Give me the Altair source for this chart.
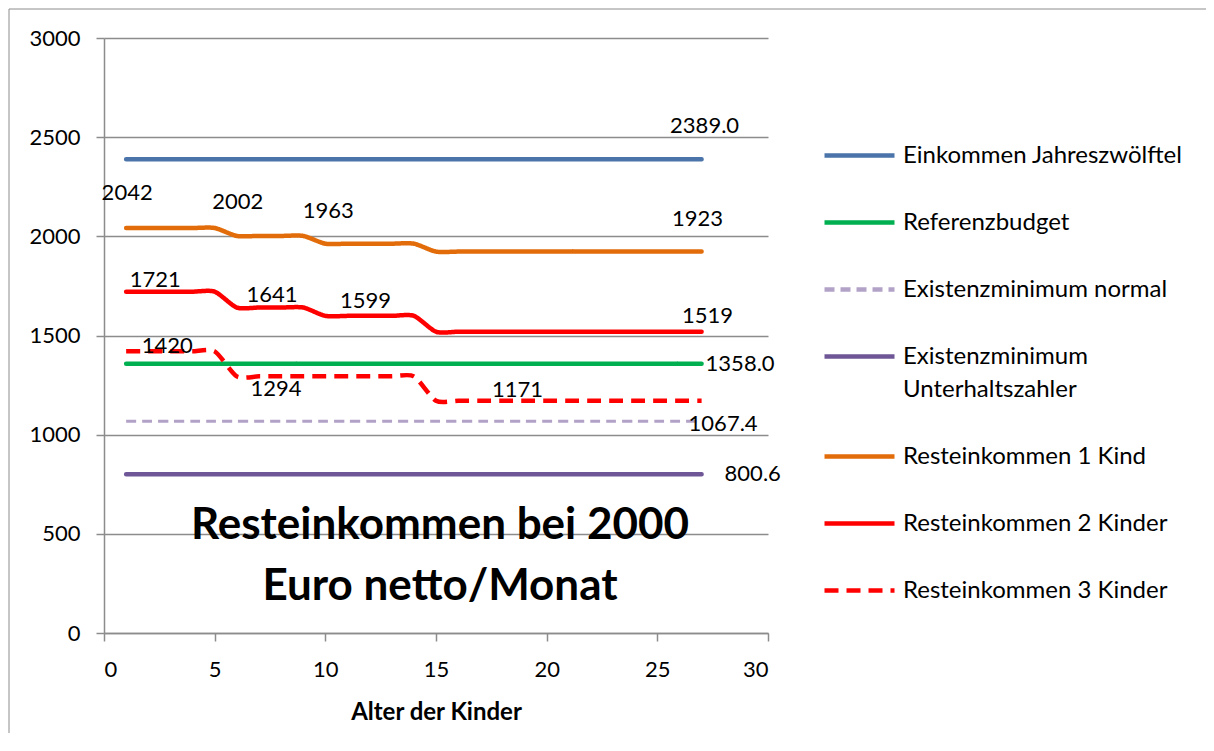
import altair as alt
import pandas as pd

# ---------------- data ----------------
ages = list(range(1, 28))

series_names = [
    "Einkommen Jahreszwölftel",
    "Referenzbudget",
    "Existenzminimum normal",
    "Existenzminimum Unterhaltszahler",
    "Resteinkommen 1 Kind",
    "Resteinkommen 2 Kinder",
    "Resteinkommen 3 Kinder",
]

einkommen = [2389.0] * 27
referenzbudget = [1358.0] * 27
existenz_normal = [1067.4] * 27
existenz_unterhalt = [800.6] * 27
rest_1_kind = [2042] * 5 + [2002] * 4 + [1963] * 5 + [1923] * 13
rest_2_kinder = [1721] * 5 + [1641] * 4 + [1599] * 5 + [1519] * 13
rest_3_kinder = [1420] * 5 + [1294] * 9 + [1171] * 13

series_values = [einkommen, referenzbudget, existenz_normal, existenz_unterhalt,
                 rest_1_kind, rest_2_kinder, rest_3_kinder]

colors = ["#4A74AA", "#00B050", "#B3A2C7", "#6F5797", "#E36C0A", "#FF0000", "#FF0000"]
dashes = [[1, 0], [1, 0], [10, 6], [1, 0], [1, 0], [1, 0], [14, 8]]

x_ticks = [0, 5, 10, 15, 20, 25, 30]
y_ticks = [0, 500, 1000, 1500, 2000, 2500, 3000]

# data labels: (series index, age, number format)
label_points = [
    (0, 27, ".1f"),
    (4, 1, "d"), (4, 6, "d"), (4, 10, "d"), (4, 27, "d"),
    (5, 2, "d"), (5, 7, "d"), (5, 11, "d"), (5, 27, "d"),
    (6, 2, "d"), (6, 7, "d"), (6, 18, "d"),
    (1, 27, ".1f"), (2, 27, ".1f"), (3, 27, ".1f"),
]
# placement styles for the labels (dx, dy, align), same order
label_styles = [
    (3, -33, "center"),
    (1, -35, "center"), (1, -34, "center"), (3, -33, "center"), (-4, -33, "center"),
    (7, -12, "center"), (13, -13, "center"), (18, -15, "center"), (6, -16, "center"),
    (19, -5, "center"), (17, 13, "center"), (15, -11, "center"),
    (4, 0, "left"), (-13, 3, "left"), (23, 0, "left"),
]

# ---------------- build table ----------------
rows = []
for name, vals in zip(series_names, series_values):
    for a, v in zip(ages, vals):
        rows.append({"series": name, "age": a, "value": float(v)})
df = pd.DataFrame(rows)

FONT = "Lato"
GRID = "#8C8C8C"

legend = alt.Legend(
    orient="none", legendX=718, legendY=80, title=None,
    symbolType="stroke", symbolSize=4900, symbolStrokeWidth=4.5,
    labelFont=FONT, labelFontSize=24, labelColor="black", labelOffset=6,
    labelLimit=400, rowPadding=17, padding=0,
    labelExpr="datum.label == 'Existenzminimum Unterhaltszahler' ? ['Existenzminimum', 'Unterhaltszahler'] : datum.label",
)

x_enc = alt.X("age:Q", scale=alt.Scale(domain=[0, 30], nice=False),
              axis=alt.Axis(values=x_ticks, title="Alter der Kinder", grid=False,
                            tickSize=8, labelPadding=18, titlePadding=20, format="d",
                            titleFontWeight="bold", titleFontSize=24, titleFont=FONT))
y_enc = alt.Y("value:Q", scale=alt.Scale(domain=[0, 3000], nice=False),
              axis=alt.Axis(values=y_ticks, title=None, grid=True, tickSize=8,
                            labelPadding=16, format="d"))
color_enc = alt.Color("series:N", scale=alt.Scale(domain=series_names, range=colors),
                      legend=legend, sort=series_names)
dash_enc = alt.StrokeDash("series:N", scale=alt.Scale(domain=series_names, range=dashes),
                          legend=legend, sort=series_names)

base = alt.Chart(df).encode(x=x_enc, y=y_enc, color=color_enc, strokeDash=dash_enc)

TENSION = 0.3
solid = base.transform_filter(
    alt.FieldOneOfPredicate(field="series", oneOf=[series_names[i] for i in (0, 1, 3, 4, 5)])
).mark_line(interpolate="cardinal", tension=TENSION, strokeWidth=4.5, strokeCap="round")

lav = base.transform_filter(
    alt.FieldEqualPredicate(field="series", equal=series_names[2])
).mark_line(interpolate="cardinal", tension=TENSION, strokeWidth=3)

red_dash = base.transform_filter(
    alt.FieldEqualPredicate(field="series", equal=series_names[6])
).mark_line(interpolate="cardinal", tension=TENSION, strokeWidth=4.5)

layers = [solid, lav, red_dash]

for (si, a, fmt), (dx, dy, align) in zip(label_points, label_styles):
    v = series_values[si][ages.index(a)]
    txt = format(v, fmt) if fmt != "d" else str(int(v))
    ldf = pd.DataFrame([{"age": a, "value": float(v), "label": txt}])
    layers.append(
        alt.Chart(ldf).mark_text(dx=dx, dy=dy, align=align, baseline="middle",
                                 font=FONT, fontSize=22, color="black")
        .encode(x="age:Q", y="value:Q", text="label:N")
    )

title_layer = alt.Chart(pd.DataFrame([{"t": 0}])).mark_text(
    text=["Resteinkommen bei 2000", "Euro netto/Monat"],
    font=FONT, fontSize=44, fontWeight="bold", color="black",
    align="center", baseline="alphabetic", lineHeight=61,
).encode(x=alt.value(336), y=alt.value(501))

frame_left = alt.Chart(pd.DataFrame([{"t": 0}])).mark_rule(color=GRID, strokeWidth=1).encode(
    x=alt.value(-95), y=alt.value(-29), y2=alt.value(720))
frame_top = alt.Chart(pd.DataFrame([{"t": 0}])).mark_rule(color=GRID, strokeWidth=1).encode(
    x=alt.value(-95), x2=alt.value(1120), y=alt.value(-29))

layers += [title_layer, frame_left, frame_top]

chart = alt.layer(*layers).properties(
    width=664, height=595,
    background="white",
    autosize=alt.AutoSizeParams(type="none"),
    padding={"left": 96, "top": 30, "right": 438, "bottom": 100},
).configure(
    view={"stroke": None},
    axis={
        "labelFont": FONT, "labelFontSize": 22, "labelColor": "black",
        "domainColor": GRID, "domainWidth": 1.5, "tickColor": GRID, "tickWidth": 1.5,
        "gridColor": GRID, "gridWidth": 1.5, "gridOpacity": 1, "titleColor": "black",
    },
    style={"guide-label": {"lineHeight": 33}},
)

chart.save("out.html", embed_options={"renderer": "svg", "actions": False})
